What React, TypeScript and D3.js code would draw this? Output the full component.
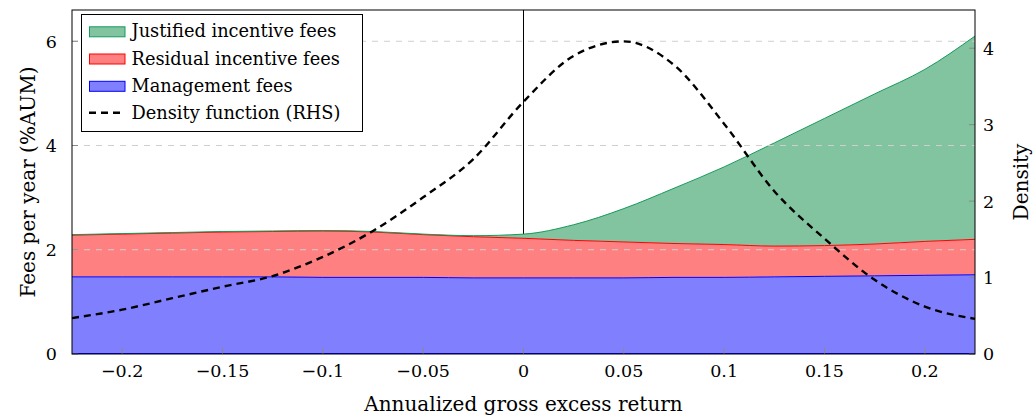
import React from 'react';
import * as d3 from 'd3';

const returns = [-0.225, -0.2, -0.175, -0.15, -0.125, -0.1, -0.075, -0.05, -0.025, 0, 0.025, 0.05, 0.075, 0.1, 0.125, 0.15, 0.175, 0.2, 0.225];
const managementFees = [1.48, 1.48, 1.48, 1.48, 1.48, 1.47, 1.47, 1.47, 1.46, 1.46, 1.46, 1.46, 1.47, 1.47, 1.48, 1.49, 1.5, 1.51, 1.52];
const residualFees = [0.8, 0.82, 0.84, 0.86, 0.87, 0.89, 0.87, 0.82, 0.79, 0.76, 0.72, 0.69, 0.65, 0.63, 0.59, 0.59, 0.61, 0.65, 0.68];
const justifiedFees = [0.01, 0.01, 0.01, 0.01, 0.01, 0.01, 0.01, 0.01, 0.02, 0.08, 0.3, 0.64, 1.06, 1.49, 1.98, 2.44, 2.88, 3.3, 3.9];
const densityValues = [0.47, 0.58, 0.73, 0.88, 1.02, 1.27, 1.61, 2.05, 2.55, 3.3, 3.9, 4.09, 3.78, 3.01, 2.13, 1.51, 0.97, 0.62, 0.46];

const xTicks = [-0.2, -0.15, -0.1, -0.05, 0, 0.05, 0.1, 0.15, 0.2];
const leftTicks = [0, 2, 4, 6];
const rightTicks = [0, 1, 2, 3, 4];
const gridTicks = [2, 4, 6];
const legendLabels = ['Justified incentive fees', 'Residual incentive fees', 'Management fees', 'Density function (RHS)'];

const FONT = '"DejaVu Serif", serif';
const fmt = (v: number) => (v < 0 ? '\u2212' : '') + String(Math.abs(v));

export default function App() {
  const W = 1034, H = 416;
  const L = 72, R = 975, T = 10, B = 354;
  const x = d3.scaleLinear().domain([-0.225, 0.225]).range([L, R]);
  const yL = d3.scaleLinear().domain([0, 6.6]).range([B, T]);
  const yR = d3.scaleLinear().domain([0, 4.5]).range([B, T]);

  const table = returns.map((r, i) => ({ r, management: managementFees[i], residual: residualFees[i], justified: justifiedFees[i] }));
  const series = d3.stack<any>().keys(['management', 'residual', 'justified'])(table);

  const area = d3.area<any>()
    .x((d: any) => x(d.data.r))
    .y0((d: any) => yL(d[0]))
    .y1((d: any) => yL(d[1]))
    .curve(d3.curveMonotoneX);
  const top = d3.line<any>()
    .x((d: any) => x(d.data.r))
    .y((d: any) => yL(d[1]))
    .curve(d3.curveMonotoneX);
  const dens = d3.line<number>()
    .x((_d, i) => x(returns[i]))
    .y((d) => yR(d))
    .curve(d3.curveMonotoneX);

  const fills = ['#8080ff', '#ff8080', '#82c3a0'];
  const strokes = ['#0000ff', '#ff0000', '#169a5a'];

  const legendFills = ['#82c3a0', '#ff8080', '#8080ff'];
  const legendStrokes = ['#169a5a', '#ff0000', '#0000ff'];
  const legendBase = [37.3, 64.5, 91.8, 119.2];

  return (
    <svg width={W} height={H} style={{ position: 'absolute', left: 0, top: 0 }} fontFamily={FONT}>
      <rect x={0} y={0} width={W} height={H} fill="#fff" />
      {/* vertical zero line */}
      <line x1={x(0)} x2={x(0)} y1={T} y2={B} stroke="#000" strokeWidth={1} />
      {series.map((s, i) => (
        <path key={'a' + i} d={area(s as any) || ''} fill={fills[i]} stroke="none" />
      ))}
      {series.map((s, i) => (
        <path key={'l' + i} d={top(s as any) || ''} fill="none" stroke={strokes[i]} strokeWidth={1} />
      ))}
      <line x1={L} x2={R} y1={B - 0.5} y2={B - 0.5} stroke="#0000ff" strokeWidth={1} />
      {gridTicks.map((t) => (
        <line key={'g' + t} x1={L} x2={R} y1={yL(t)} y2={yL(t)} stroke="#cfcfcf" strokeWidth={1} strokeDasharray="6,6" />
      ))}
      <path d={dens(densityValues) || ''} fill="none" stroke="#000" strokeWidth={2.4} strokeDasharray="7,5" />
      {/* ticks */}
      {leftTicks.map((t) => (
        <line key={'lt' + t} x1={L} x2={L + 6} y1={yL(t)} y2={yL(t)} stroke="#888" strokeWidth={1} />
      ))}
      {rightTicks.map((t) => (
        <line key={'rt' + t} x1={R - 6} x2={R} y1={yR(t)} y2={yR(t)} stroke="#888" strokeWidth={1} />
      ))}
      {xTicks.map((t) => (
        <line key={'xt' + t} x1={x(t)} x2={x(t)} y1={B} y2={B - 6} stroke="#888" strokeWidth={1} />
      ))}
      <rect x={L} y={T} width={R - L} height={B - T} fill="none" stroke="#000" strokeWidth={1} />
      {/* tick labels */}
      {leftTicks.map((t) => (
        <text key={'ll' + t} x={57} y={yL(t) + 6.4} textAnchor="end" fontSize={17.5}>{fmt(t)}</text>
      ))}
      {rightTicks.map((t) => (
        <text key={'rl' + t} x={983} y={yR(t) + 6.4} textAnchor="start" fontSize={17.5}>{fmt(t)}</text>
      ))}
      {xTicks.map((t) => (
        <text key={'xl' + t} x={x(t)} y={376.5} textAnchor="middle" fontSize={17.5}>{fmt(t)}</text>
      ))}
      <text x={(L + R) / 2} y={411} textAnchor="middle" fontSize={20}>Annualized gross excess return</text>
      <text transform={`translate(35,${(T + B) / 2}) rotate(-90)`} textAnchor="middle" fontSize={20}>Fees per year (%AUM)</text>
      <text transform={`translate(1028,${(T + B) / 2}) rotate(-90)`} textAnchor="middle" fontSize={20}>Density</text>
      {/* legend */}
      <rect x={81.5} y={14.5} width={281} height={117} fill="#fff" stroke="#000" strokeWidth={1} />
      {legendLabels.map((lab, i) => (
        <g key={'lg' + i}>
          {i < 3 ? (
            <rect x={89.5} y={legendBase[i] - 10.5} width={35.5} height={10} fill={legendFills[i]} stroke={legendStrokes[i]} strokeWidth={1} />
          ) : (
            <line x1={89} x2={125} y1={legendBase[i] - 6.5} y2={legendBase[i] - 6.5} stroke="#000" strokeWidth={2.4} strokeDasharray="7,5" />
          )}
          <text x={131.5} y={legendBase[i]} fontSize={17.8}>{lab}</text>
        </g>
      ))}
    </svg>
  );
}
